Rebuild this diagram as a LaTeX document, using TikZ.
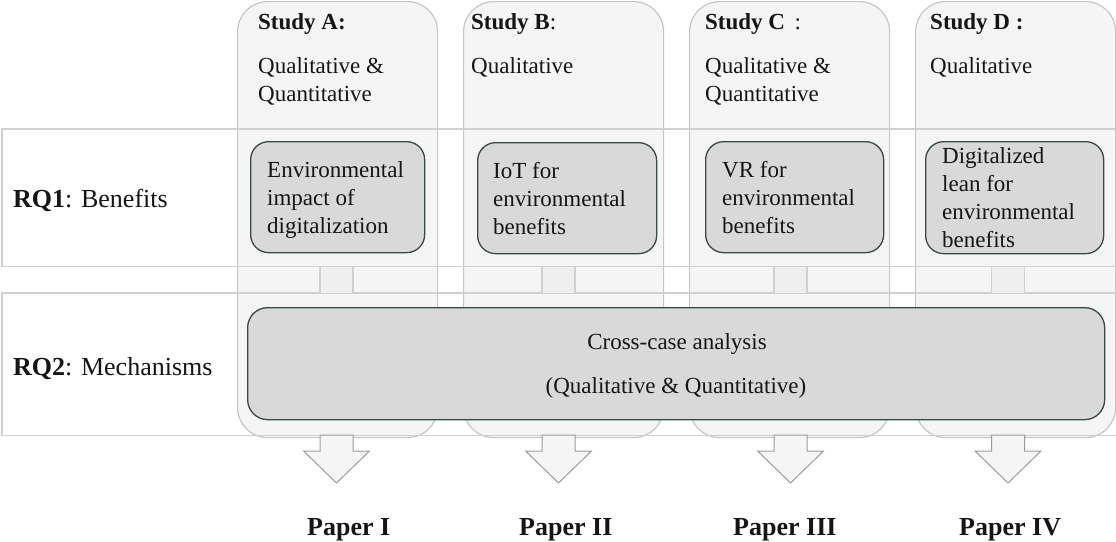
\documentclass[tikz,border=0pt]{standalone}
\usepackage{fontspec}
\setmainfont{Liberation Serif}
\usetikzlibrary{calc}

\definecolor{colfill}{HTML}{F5F5F5}
\definecolor{colline}{HTML}{C6C6C6}
\definecolor{bandline}{HTML}{D0D0D0}
\definecolor{boxfill}{HTML}{D9D9D9}
\definecolor{boxline}{HTML}{3A4846}
\definecolor{linkfill}{HTML}{EFEFEF}
\definecolor{arrowline}{HTML}{9C9C9C}
\definecolor{ink}{HTML}{151515}

% stacked lines, aligned on the baseline of the first one
\newcommand{\stack}[1]{\begin{tabular}[t]{@{}l@{}}#1\end{tabular}}

\tikzset{
  bandfill/.style={rectangle, fill=white, inner sep=0pt, anchor=north west},
  column/.style={rectangle, rounded corners=30pt, draw=colline, line width=1.2pt,
    fill=colfill, inner sep=0pt, anchor=north west, minimum width=200pt, minimum height=436pt},
  bandedge/.style={draw=bandline, line width=1.2pt},
  linkbox/.style={rectangle, draw=bandline, line width=1.2pt, fill=linkfill,
    inner sep=0pt, anchor=north, minimum width=33pt, minimum height=27pt},
  topic/.style={rectangle, rounded corners=18pt, draw=boxline, line width=1.3pt,
    fill=boxfill, inner sep=0pt, anchor=north west},
  body/.style={inner sep=0pt, anchor=base west, text=ink,
    font=\fontsize{23}{28}\selectfont},
  rqlabel/.style={inner sep=0pt, anchor=base west, text=ink,
    font=\fontsize{26}{30}\selectfont},
  paper/.style={inner sep=0pt, anchor=base west, text=ink,
    font=\fontsize{26}{30}\selectfont\bfseries},
  blockarrow/.style={draw=arrowline, line width=1pt, fill=colfill, line join=miter},
}

\begin{document}
\begin{tikzpicture}[x=1pt,y=-1pt]
\useasboundingbox (0,0) rectangle (1116,541);

% row bands (white ground)
\node[bandfill, minimum width=1114pt, minimum height=137pt] (rq1) at (2,129) {};
\node[bandfill, minimum width=1114pt, minimum height=142pt] (rq2) at (2,293) {};

% study columns
\node[column] (colA) at (237,1) {};
\node[column] (colB) at (463,1) {};
\node[column] (colC) at (689,1) {};
\node[column] (colD) at (915,1) {};

% band outlines on top of the columns
\draw[bandedge] (rq1.north west) rectangle (rq1.south east);
\draw[bandedge] (rq2.north west) rectangle (rq2.south east);

% links between the two bands
\node[linkbox] (linkA) at (336.5,266) {};
\node[linkbox] (linkB) at (558.5,266) {};
\node[linkbox] (linkC) at (790.5,266) {};
\node[linkbox] (linkD) at (1008,266) {};

% RQ1 topic boxes
\node[topic, minimum width=174pt, minimum height=111pt] (topA) at (250,141) {};
\node[topic, minimum width=179pt, minimum height=111pt] (topB) at (477,142) {};
\node[topic, minimum width=178pt, minimum height=111pt] (topC) at (705,141) {};
\node[topic, minimum width=178pt, minimum height=112pt] (topD) at (925,141) {};

% RQ2 cross-case box
\node[topic, rounded corners=20pt, minimum width=857pt, minimum height=112pt] (cross) at (247,307) {};

% study headers
\node[body] (hA) at (258,29) {\textbf{Study A:}};
\node[body] (hB) at (471,29) {\textbf{Study B}:};
\node[body] (hC) at (705,29) {\textbf{Study C} \,:};
\node[body] (hD) at (930,29) {\textbf{Study D :}};
\node[body] (mA) at (258,73) {\stack{Qualitative \&\\Quantitative}};
\node[body] (mB) at (471,73) {Qualitative};
\node[body] (mC) at (705,73) {\stack{Qualitative \&\\Quantitative}};
\node[body] (mD) at (930,73) {Qualitative};

% topic texts
\node[body] (tA) at (267,177) {\stack{Environmental\\impact of\\digitalization}};
\node[body] (tB) at (493,178) {\stack{IoT for\\environmental\\benefits}};
\node[body] (tC) at (722,177) {\stack{VR for\\environmental\\benefits}};
\node[body] (tD) at (942,163) {\stack{Digitalized\\lean for\\environmental\\benefits}};

% cross-case texts
\node[body, anchor=base] (x1) at (677,349) {Cross-case analysis};
\node[body, anchor=base] (x2) at (676,393) {(Qualitative \& Quantitative)};

% research questions
\node[rqlabel] (q1) at (13,207) {\textbf{RQ1}: Benefits};
\node[rqlabel] (q2) at (13,375) {\textbf{RQ2}: Mechanisms};

% papers
\node[paper] (pA) at (307,535) {Paper I};
\node[paper] (pB) at (519,535) {Paper II};
\node[paper] (pC) at (733,535) {Paper III};
\node[paper] (pD) at (959,535) {Paper IV};

% block arrows from each study to its paper
\coordinate (arrowtop) at (0,435);
\foreach \s in {A,B,C,D}{
  \begin{scope}[shift={(link\s |- arrowtop)}]
    \draw[blockarrow] (-16.5,0) -- (-16.5,16) -- (-33,16) -- (0,48)
      -- (33,16) -- (16.5,16) -- (16.5,0) -- cycle;
  \end{scope}
}
\end{tikzpicture}
\end{document}
